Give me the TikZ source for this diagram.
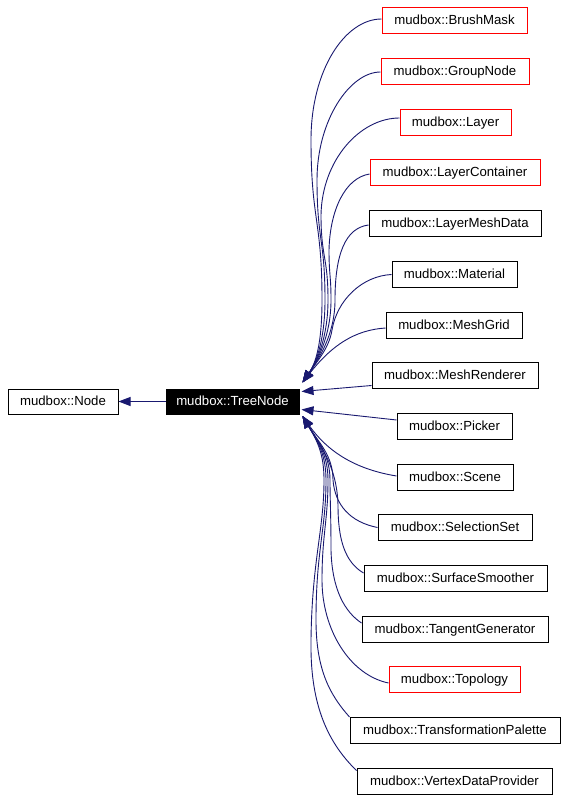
\documentclass[tikz,border=0pt]{standalone}
\usepackage{fontspec}
\setmainfont{Liberation Sans}
\usetikzlibrary{arrows.meta,calc}
\definecolor{edgeblue}{HTML}{191970}
\begin{document}
\begin{tikzpicture}[x=1pt,y=-1pt,
  box/.style={draw=black,line width=1pt,inner sep=0pt,minimum height=26pt,
    font=\fontsize{13.2}{16}\selectfont,text height=9.5pt,text depth=1.5pt},
  redbox/.style={box,draw=red},
  treebox/.style={box,fill=black,text=white,minimum height=25pt},
  edge/.style={draw=edgeblue,line width=0.9pt,-{Triangle[length=12pt,width=9pt]},
    line join=round}]
\useasboundingbox[fill=white] (0,0) rectangle (567,802);
% nodes
\node[box,minimum height=25pt,minimum width=110pt] (nd) at (63,401.5) {mudbox::Node};
\node[treebox,minimum width=133pt] (tree) at (232.5,401.5) {mudbox::TreeNode};
\node[redbox,minimum width=145pt] (bm) at (454.5,21) {mudbox::BrushMask};
\node[redbox,minimum width=148pt] (gn) at (455,72) {mudbox::GroupNode};
\node[redbox,minimum width=111pt] (ly) at (455.5,122.5) {mudbox::Layer};
\node[redbox,minimum width=170pt] (lc) at (455,173) {mudbox::LayerContainer};
\node[box,minimum width=172pt] (lm) at (455,223.5) {mudbox::LayerMeshData};
\node[box,minimum width=125pt] (mt) at (454.5,274.5) {mudbox::Material};
\node[box,minimum width=136pt] (mg) at (454,325) {mudbox::MeshGrid};
\node[box,minimum width=166pt] (mr) at (455,375.5) {mudbox::MeshRenderer};
\node[box,minimum width=115pt] (pk) at (454.5,426.5) {mudbox::Picker};
\node[box,minimum width=116pt] (sc) at (455,477) {mudbox::Scene};
\node[box,minimum width=154pt] (ss) at (455,527.5) {mudbox::SelectionSet};
\node[box,minimum width=183pt] (sm) at (455.5,578) {mudbox::SurfaceSmoother};
\node[box,minimum width=186pt] (tg) at (455,629.5) {mudbox::TangentGenerator};
\node[redbox,minimum width=131pt] (tp) at (454.5,679.5) {mudbox::Topology};
\node[box,minimum width=210pt] (tf) at (455,730.5) {mudbox::TransformationPalette};
\node[box,minimum width=195pt] (vd) at (454.5,781) {mudbox::VertexDataProvider};
% arrow tip points on TreeNode
\coordinate (tu) at ($(tree.north east)+(3,-6)$);
\coordinate (tmr) at ($(tree.north east)+(2,3)$);
\coordinate (tpk) at ($(tree.south east)+(2,-5)$);
\coordinate (tl) at ($(tree.south east)+(3,1.5)$);
% edges
\draw[edge] (tree.west) -- (nd.east);
% upper cluster
\draw[edge] ($(bm.west)+(0,-2)$) .. controls (345,19) and (311,70) .. (311,140)
  .. controls (311,220) and (322,220) .. (322,300)
  .. controls (322,335) and (318,360) .. (tu);
\draw[edge] (gn.west) .. controls (350,72) and (317,120) .. (317,180)
  .. controls (317,240) and (325,240) .. (325,300)
  .. controls (325,335) and (318,360) .. (tu);
\draw[edge] ($(ly.west)+(0,-4.5)$) .. controls (360,118) and (322,160) .. (321,215)
  .. controls (321,257) and (328,257) .. (328,300)
  .. controls (328,335) and (318,360) .. (tu);
\draw[edge] ($(lc.west)+(0,1)$) .. controls (345,178) and (330,210) .. (329,250)
  .. controls (329,275) and (331,275) .. (331,300)
  .. controls (331,335) and (318,360) .. (tu);
\draw[edge] ($(lm.west)+(0,1.5)$) .. controls (345,228) and (335,255) .. (335,300)
  .. controls (335,335) and (318,360) .. (tu);
\draw[edge] (mt.west) .. controls (362,276) and (337,300) .. (332,330)
  .. controls (329,348) and (318,360) .. (tu);
\draw[edge] ($(mg.west)+(0,3)$) .. controls (355,330) and (332,345) .. (tu);
% near-horizontal
\draw[edge] ($(mr.west)+(0,10)$) -- (tmr);
\draw[edge] ($(pk.west)+(0,-6.5)$) -- (tpk);
% lower cluster
\draw[edge] ($(sc.west)+(0,-1)$) .. controls (360,470) and (330,455) .. (tl);
\draw[edge] (ss.west) .. controls (350,522) and (335,505) .. (333,480)
  .. controls (333,455) and (318,442) .. (tl);
\draw[edge] ($(sm.west)+(0,-5)$) .. controls (345,562) and (338,540) .. (338,505)
  .. controls (337,465) and (318,442) .. (tl);
\draw[edge] ($(tg.west)+(0,-6.5)$) .. controls (345,612) and (332,590) .. (331,550)
  .. controls (331,515) and (330,500) .. (330,480)
  .. controls (330,455) and (318,442) .. (tl);
\draw[edge] ($(tp.west)+(0,3.5)$) .. controls (350,675) and (322,630) .. (322,580)
  .. controls (322,535) and (328,520) .. (328,480)
  .. controls (328,455) and (318,442) .. (tl);
\draw[edge] (tf.north west) .. controls (330,695) and (316,670) .. (316,620)
  .. controls (316,550) and (326,530) .. (326,480)
  .. controls (326,455) and (318,442) .. (tl);
\draw[edge] ($(vd.north west)+(0,3)$) .. controls (325,740) and (310,700) .. (311,640)
  .. controls (312,560) and (324,530) .. (324,480)
  .. controls (324,455) and (318,442) .. (tl);
\end{tikzpicture}
\end{document}
